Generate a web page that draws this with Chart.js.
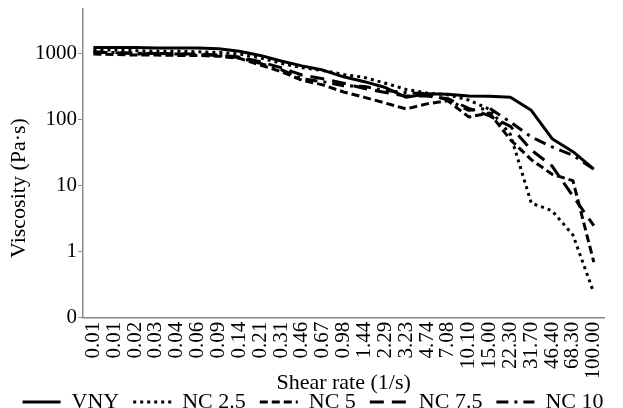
<!DOCTYPE html>
<html>
<head>
<meta charset="utf-8">
<script src="https://cdn.jsdelivr.net/npm/chart.js@4"></script>
<style>
  html, body { margin: 0; padding: 0; background: #fff; overflow: hidden; }
  #wrap { width: 623px; height: 408px; }
</style>
</head>
<body>
<div id="wrap"><canvas id="viscChart"></canvas></div>
<script>
// ── DATA ──────────────────────────────────────────────
const shearRates = ['0.01', '0.01', '0.02', '0.03', '0.04', '0.06', '0.09', '0.14', '0.21', '0.31', '0.46', '0.67', '0.98',
    '1.44', '2.29', '3.23', '4.74', '7.08', '10.10', '15.00', '22.30', '31.70', '46.40', '68.30', '100.00'];
const vny   = [1250, 1250, 1250, 1230, 1230, 1230, 1200, 1100, 950, 780, 660, 570, 450, 380, 310, 220, 250, 245, 230, 228, 220, 140, 52, 33, 18];
const nc2_5 = [1150, 1150, 1120, 1100, 1100, 1080, 1050, 1000, 870, 720, 620, 560, 490, 440, 360, 290, 255, 240, 200, 145, 60, 5.5, 4.2, 1.8, 0.24];
const nc5   = [1000, 980, 960, 960, 950, 950, 920, 860, 680, 540, 400, 340, 265, 220, 180, 147, 175, 195, 111, 127, 50, 25, 15, 12, 0.7];
const nc7_5 = [1050, 1050, 1000, 1020, 1000, 1000, 960, 900, 760, 620, 480, 420, 360, 300, 260, 230, 230, 210, 150, 115, 80, 35, 20, 7, 2.5];
const nc10  = [1080, 1050, 1030, 1020, 1000, 980, 950, 880, 720, 580, 420, 380, 330, 320, 280, 260, 250, 200, 140, 150, 93, 55, 39, 29, 18];
const yTicks = [0.1, 1, 10, 100, 1000];
const yTitle = 'Viscosity (Pa·s)';

// ── STYLE ─────────────────────────────────────────────
const serif = '"Liberation Serif", "Times New Roman", serif';
const axisGray = '#8a8a8a';

function series(label, data, dash) {
    return { label, data, borderColor: '#000', backgroundColor: '#000', borderWidth: 3, borderDash: dash,
        pointRadius: 0, tension: 0, borderJoinStyle: 'round', fill: false };
}

// legend samples: take dash + width from the dataset line, not the point
function lineLabels(chart) {
    return Chart.defaults.plugins.legend.labels.generateLabels(chart).map(item => {
        const ds = chart.data.datasets[item.datasetIndex];
        return Object.assign(item, { lineDash: ds.borderDash, lineWidth: ds.borderWidth, strokeStyle: '#000', pointStyle: 'line' });
    });
}

// y title sits a bit low in the original, so it is drawn by hand
const yTitlePlugin = {
    id: 'yTitle',
    afterDraw(chart) {
        const ctx = chart.ctx;
        ctx.save();
        ctx.translate(19, 188);
        ctx.rotate(-Math.PI / 2);
        ctx.font = '22px ' + serif;
        ctx.fillStyle = '#000';
        ctx.textAlign = 'center';
        ctx.textBaseline = 'middle';
        ctx.fillText(yTitle, 0, 0);
        ctx.restore();
    }
};

new Chart(document.getElementById('viscChart'), {
    type: 'line',
    data: {
        labels: shearRates,
        datasets: [
            series('VNY', vny, []),
            series('NC 2.5', nc2_5, [3, 4]),
            series('NC 5', nc5, [8, 4]),
            series('NC 7.5', nc7_5, [14, 8]),
            series('NC 10', nc10, [12, 6, 3, 6])
        ]
    },
    plugins: [yTitlePlugin],
    options: {
        responsive: true,
        maintainAspectRatio: false,
        animation: false,
        layout: { padding: { left: 3, right: 0, top: 9, bottom: -15 } },
        plugins: {
            tooltip: { enabled: false },
            legend: {
                position: 'bottom',
                labels: {
                    usePointStyle: true, pointStyle: 'line', pointStyleWidth: 38, boxWidth: 38, boxHeight: 4,
                    padding: 14, color: '#000', font: { family: serif, size: 22 }, generateLabels: lineLabels
                }
            }
        },
        scales: {
            x: {
                offset: true,
                border: { color: axisGray, width: 1.5 },
                grid: { display: true, drawOnChartArea: false, drawTicks: false },
                ticks: { minRotation: 90, maxRotation: 90, autoSkip: false, padding: 4, color: '#000', font: { family: serif, size: 21 } },
                title: { display: true, text: 'Shear rate (1/s)', color: '#000', font: { family: serif, size: 22 }, padding: { top: -14, bottom: -19 } }
            },
            y: {
                type: 'logarithmic',
                min: 0.1, max: 4800,
                border: { color: axisGray, width: 1.5 },
                grid: { drawOnChartArea: false, drawTicks: true, tickLength: 5, color: axisGray },
                afterBuildTicks: axis => { axis.ticks = yTicks.map(v => ({ value: v })); },
                afterFit: axis => { axis.width = 80; },
                ticks: { padding: 1, color: '#000', font: { family: serif, size: 21, lineHeight: 0.6 }, callback: v => v === 0.1 ? '0' : String(v) }
            }
        }
    }
});
</script>
</body>
</html>
